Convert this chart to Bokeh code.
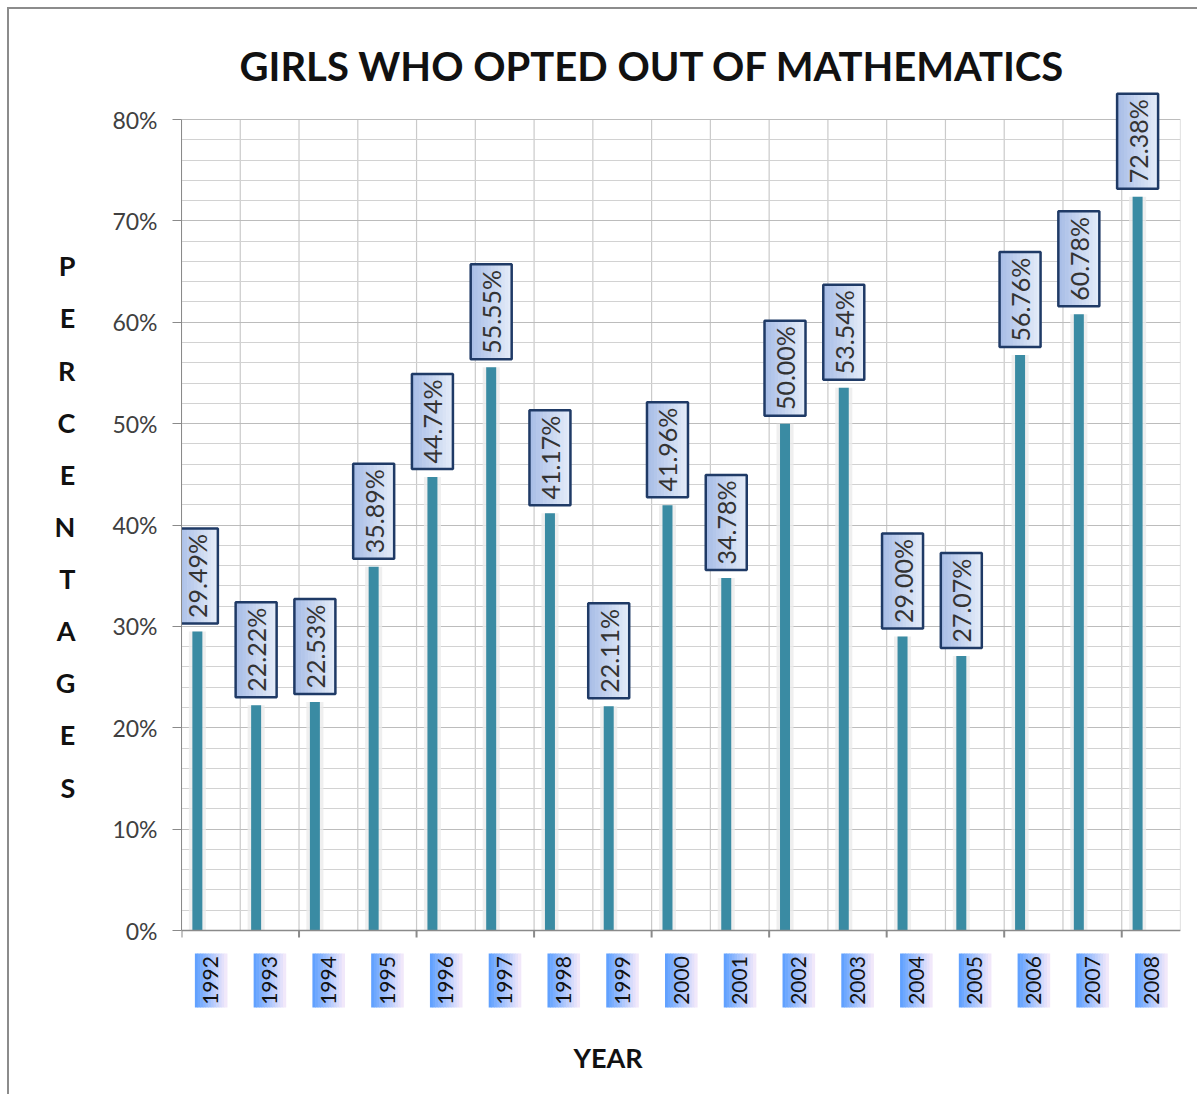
import math
from bokeh.plotting import figure
from bokeh.models import Range1d, FixedTicker, PrintfTickFormatter, ColumnDataSource, Title
from bokeh.transform import dodge
from bokeh.embed import file_html
from bokeh.resources import INLINE
from bokeh.core.properties import value

# ---------------- data ----------------
years = ["1992", "1993", "1994", "1995", "1996", "1997", "1998", "1999", "2000",
         "2001", "2002", "2003", "2004", "2005", "2006", "2007", "2008"]
percent = [29.49, 22.22, 22.53, 35.89, 44.74, 55.55, 41.17, 22.11, 41.96,
           34.78, 50.00, 53.54, 29.00, 27.07, 56.76, 60.78, 72.38]
y_major_ticks = [0, 10, 20, 30, 40, 50, 60, 70, 80]
y_minor_ticks = [2, 4, 6, 8, 12, 14, 16, 18, 22, 24, 26, 28, 32, 34, 36, 38, 42, 44, 46, 48,
                 52, 54, 56, 58, 62, 64, 66, 68, 72, 74, 76, 78]
title_text = "GIRLS WHO OPTED OUT OF MATHEMATICS"
y_title = "PERCENTAGES"
x_title = "YEAR"

# ---------------- style / layout (pixels) ----------------
FONT = "Lato"
BAR_COLOR = "#3a8ba3"
BAR_OFFSET = -0.23          # bar shift inside its slot (slot units)
BAR_WIDTH = 0.17
AXIS_COLOR = "#8a8a8a"
ORIGIN = 9                  # page position of the canvas (after margin + border)
W, H = 1190, 1087
FR_LEFT, FR_RIGHT = 181, 1180          # page x of plot frame
Y0_PX, Y80_PX = 930, 119               # page y of 0% and 80%
FR_TOP, FR_BOTTOM = 89, 1015           # page y of frame (room for labels)
PX_PER_PCT = (Y0_PX - Y80_PX) / 80.0
Y_END = 80 + (Y80_PX - FR_TOP) / PX_PER_PCT
Y_START = -(FR_BOTTOM - Y0_PX) / PX_PER_PCT

n = len(years)
PX_PER_SLOT = (FR_RIGHT - FR_LEFT) / n
centers = [i + 0.5 for i in range(n)]          # slot centres


def dx(px):
    return px / PX_PER_SLOT


def dy(px):
    return px / PX_PER_PCT


def hexmix(c1, c2, t):
    a = [int(c1[i:i + 2], 16) for i in (1, 3, 5)]
    b = [int(c2[i:i + 2], 16) for i in (1, 3, 5)]
    return "#" + "".join(f"{round(a[k] + (b[k] - a[k]) * t):02x}" for k in range(3))


p = figure(width=W, height=H, x_range=Range1d(0, n), y_range=Range1d(Y_START, Y_END),
           output_backend="svg", toolbar_location=None,
           min_border_left=FR_LEFT - ORIGIN, min_border_right=ORIGIN + W - FR_RIGHT,
           min_border_top=FR_TOP - ORIGIN, min_border_bottom=ORIGIN + H - FR_BOTTOM,
           outline_line_color=None, background_fill_color="white", border_fill_color="white")
p.margin = (ORIGIN - 2, 0, 0, ORIGIN - 2)
p.styles = {"border-left": "2px solid #8c8c8c", "border-top": "2px solid #8c8c8c"}

# title (left-aligned with an offset so that it sits where the original does)
p.title.text = title_text
p.title.text_font = FONT
p.title.text_font_style = "bold"
p.title.text_font_size = "40px"
p.title.text_color = "#111111"
p.title.align = "left"
p.title.offset = 58
p.title.standoff = 0

# grid
p.xgrid.visible = False
p.ygrid.ticker = FixedTicker(ticks=y_major_ticks, minor_ticks=y_minor_ticks)
p.ygrid.grid_line_color = "#bcbcbc"
p.ygrid.minor_grid_line_color = "#d2d2d2"

bounds = ColumnDataSource(dict(b=list(range(n + 1))))
p.segment(x0="b", y0=0, x1="b", y1=80, source=bounds,
          line_color="#cacaca", line_width=1.2, level="underlay")

# y axis
ya = p.yaxis[0]
ya.bounds = (0, 80)
ya.ticker = FixedTicker(ticks=y_major_ticks)
ya.formatter = PrintfTickFormatter(format="%d%%")
ya.major_tick_out = 9
ya.major_tick_in = 0
ya.minor_tick_out = 0
ya.minor_tick_in = 0
ya.major_label_standoff = 15
ya.axis_line_color = AXIS_COLOR
ya.major_tick_line_color = AXIS_COLOR
ya.major_label_text_font = FONT
ya.major_label_text_font_size = "23px"
ya.major_label_text_color = "#404040"
ya.axis_label = "\n".join(y_title) + "\n "
ya.axis_label_orientation = "horizontal"
ya.axis_label_text_font = FONT
ya.axis_label_text_font_style = "bold"
ya.axis_label_text_font_size = "27px"
ya.axis_label_text_line_height = 1.58
ya.axis_label_text_color = "#111111"
ya.axis_label_standoff = 34

# x axis title as a title below the frame
p.xaxis.visible = False
p.add_layout(Title(text=x_title, align="left", offset=392, standoff=46,
                   text_font=FONT, text_font_style="bold", text_font_size="27px",
                   text_color="#111111"), "below")

# bars (soft glow + bar)
src = ColumnDataSource(dict(x=centers, year=years, pct=percent))
p.vbar(x=dodge("x", BAR_OFFSET), top="pct", width=0.29, source=src,
       fill_color="#ebebeb", fill_alpha=0.8, line_color=None)
p.vbar(x=dodge("x", BAR_OFFSET), top="pct", width=BAR_WIDTH, source=src,
       fill_color=BAR_COLOR, line_color=None)

# category axis line and boundary ticks (every second slot)
p.segment(x0=[0], y0=[0], x1=[n], y1=[0], line_color=AXIS_COLOR, line_width=1.6)
tb = list(range(0, n + 1, 2))
p.segment(x0=tb, y0=[0] * len(tb), x1=tb, y1=[-dy(7)] * len(tb),
          line_color=AXIS_COLOR, line_width=2)

# ---- gradient boxes helper ----
K = 12


def gradient_boxes(xc, ybot, wpx, hpx, c_left, c_right):
    L, R, B, T, C = [], [], [], [], []
    for xcen, yb in zip(xc, ybot):
        for k in range(K):
            l = xcen + dx(-wpx / 2 + wpx * k / K)
            r = xcen + dx(-wpx / 2 + wpx * (k + 1) / K) + dx(0.6)
            L.append(l); R.append(r); B.append(yb); T.append(yb + dy(hpx))
            C.append(hexmix(c_left, c_right, (k + 0.5) / K))
    p.quad(left=L, right=R, bottom=B, top=T, fill_color=C, line_color=None)


# data labels
LBL_W, LBL_H, LBL_GAP = 41, 95, 8
lx = [c + BAR_OFFSET for c in centers]
lb = [v + dy(LBL_GAP) for v in percent]
gradient_boxes(lx, lb, LBL_W, LBL_H, "#a6bce6", "#e6edf9")
p.quad(left=[x - dx(LBL_W / 2) for x in lx], right=[x + dx(LBL_W / 2) for x in lx],
       bottom=lb, top=[b + dy(LBL_H) for b in lb],
       fill_color=None, line_color="#1f3a66", line_width=2.5)
p.text(x=lx, y=[b + dy(LBL_H / 2) for b in lb], text=[f"{v:.2f}%" for v in percent],
       angle=math.pi / 2, text_align="center", text_baseline="middle",
       text_font=value(FONT), text_font_size="25px", text_color="#333333")

# year labels
YR_W, YR_H, YR_GAP = 32, 54, 23
yb = [-dy(YR_GAP + YR_H)] * n
gradient_boxes(centers, yb, YR_W, YR_H, "#5a9eff", "#f8ebfa")
p.text(x=centers, y=[-dy(YR_GAP + YR_H / 2)] * n, text=years,
       angle=math.pi / 2, text_align="center", text_baseline="middle",
       text_font=value(FONT), text_font_size="21px", text_color="#111111")

open("out.html", "w").write(file_html(p, INLINE))
